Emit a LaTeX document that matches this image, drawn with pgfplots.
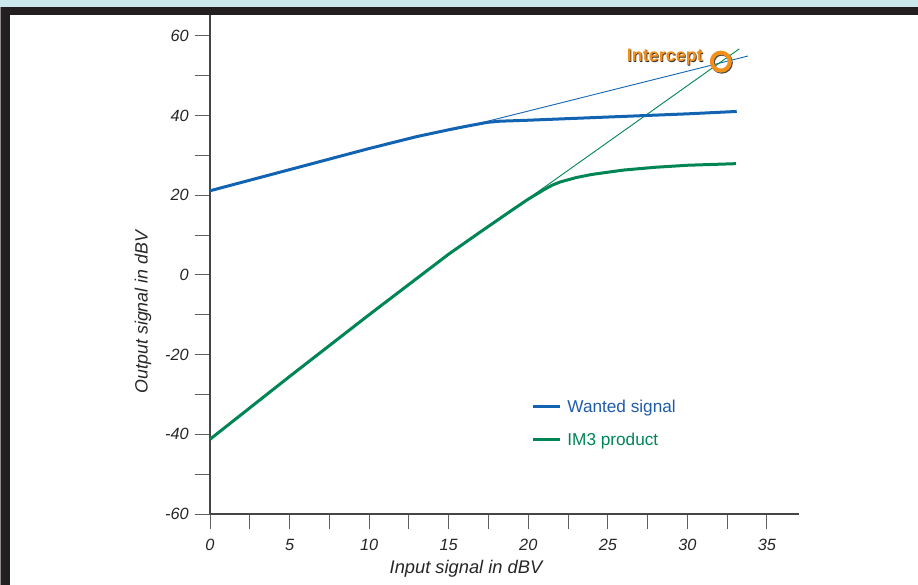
\documentclass[border=0pt]{standalone}
\usepackage{pgfplots}
\pgfplotsset{compat=1.18}
\usepackage{fontspec}
\setmainfont{Liberation Sans}
\definecolor{wblue}{RGB}{18,100,178}
\definecolor{wbluetxt}{RGB}{30,92,168}
\definecolor{imgreen}{RGB}{0,133,85}
\definecolor{iorange}{RGB}{243,144,28}
\definecolor{bandblue}{RGB}{205,232,236}
\definecolor{barblack}{RGB}{35,31,32}
\definecolor{axgray}{RGB}{70,70,70}
\definecolor{tickgray}{RGB}{95,95,95}
\begin{document}
\begin{tikzpicture}
\useasboundingbox (0,0) rectangle (918pt,-585pt);
\begin{axis}[
  scale only axis,
  width=588.8pt, height=500.2pt,
  at={(210pt,-514pt)}, anchor=south west,
  xmin=0, xmax=37, ymin=-60, ymax=65.5,
  axis lines=left,
  axis line style={-, color=axgray, line width=1.4pt},
  xtick={0,5,...,35},
  xticklabels={0,5,10,15,20,25,30,35},
  minor xtick={2.5,7.5,...,32.5},
  ytick={-60,-40,...,60},
  yticklabels={-60,-40,-20,0,20,40,60},
  minor ytick={-50,-30,...,50},
  tick align=outside,
  major tick length=15pt, minor tick length=15pt,
  every tick/.style={tickgray, line width=1pt},
  tick label style={font=\fontsize{16.3}{19}\selectfont\itshape, text=black!85},
  yticklabel style={inner sep=0pt, xshift=-6pt},
  xticklabel style={inner sep=0pt, yshift=-10pt},
  legend cell align=left,
  legend style={at={(axis cs:20.21,-37.25)}, anchor=west, draw=none, fill=none,
    inner sep=0pt, font=\fontsize{17.2}{20}\selectfont, row sep=19pt, column sep=6pt,
    nodes={inner sep=0pt}},
  legend image code/.code={\draw[#1] (0pt,0pt) -- (26.6pt,0pt);},
  clip=false,
]
% thin extrapolation lines
\addplot[wblue, line width=0.9pt, forget plot] coordinates {(16,37.1) (33.8,54.9)};
\addplot[imgreen, line width=0.9pt, forget plot] coordinates {(19,16.3) (33.26,56.7)};
% wanted signal
\addplot[wblue, line width=3pt] coordinates {
 (0,21.1) (5,26.4) (10,31.7) (13,34.7) (15,36.4) (16,37.2) (16.8,37.8) (17.4,38.25) (18.2,38.55)
 (20,38.8) (25,39.6) (30,40.4) (33.1,41.0)};
\addlegendentry{\textcolor{wbluetxt}{Wanted signal}}
% IM3 product
\addplot[imgreen, line width=3pt] coordinates {
 (0,-41.25) (5,-25.5) (10,-10) (15,5.2) (17,10.8) (19,16.3) (20,19.0) (21,21.4)
 (21.5,22.5) (22,23.3) (23,24.4) (24,25.2) (26,26.3) (28,27.0) (30,27.5) (33.05,27.9)};
\addlegendentry{\textcolor{imgreen}{IM3 product}}
% intercept marker
\addplot[only marks, mark=o, mark size=9pt, black!70, line width=4pt, forget plot,
  mark options={xshift=1pt, yshift=-1pt}] coordinates {(32.1,53.5)};
\addplot[only marks, mark=o, mark size=9pt, iorange, line width=4pt, forget plot] coordinates {(32.1,53.5)};
\node[anchor=east, inner sep=0pt, text=black!80, font=\fontsize{18}{20}\selectfont\bfseries]
  at ([xshift=0.9pt,yshift=-0.9pt]axis cs:30.98,54.6) {Intercept};
\node[anchor=east, inner sep=0pt, text=iorange, font=\fontsize{18}{20}\selectfont\bfseries]
  at (axis cs:30.98,54.6) {Intercept};
\end{axis}
% axis titles
\node[font=\fontsize{18.3}{20}\selectfont\itshape, text=black!85] at (466pt,-569pt) {Input signal in dBV};
\node[rotate=90, font=\fontsize{17.8}{20}\selectfont\itshape, text=black!85] at (143pt,-312pt) {Output signal in dBV};
% frame bars
\fill[bandblue] (0,0) rectangle (918pt,-7pt);
\fill[barblack] (1pt,-7pt) rectangle (918pt,-15pt);
\fill[barblack] (1pt,-7pt) rectangle (10pt,-585pt);
\fill[black!45] (0pt,-7pt) rectangle (1pt,-585pt);
\end{tikzpicture}
\end{document}
